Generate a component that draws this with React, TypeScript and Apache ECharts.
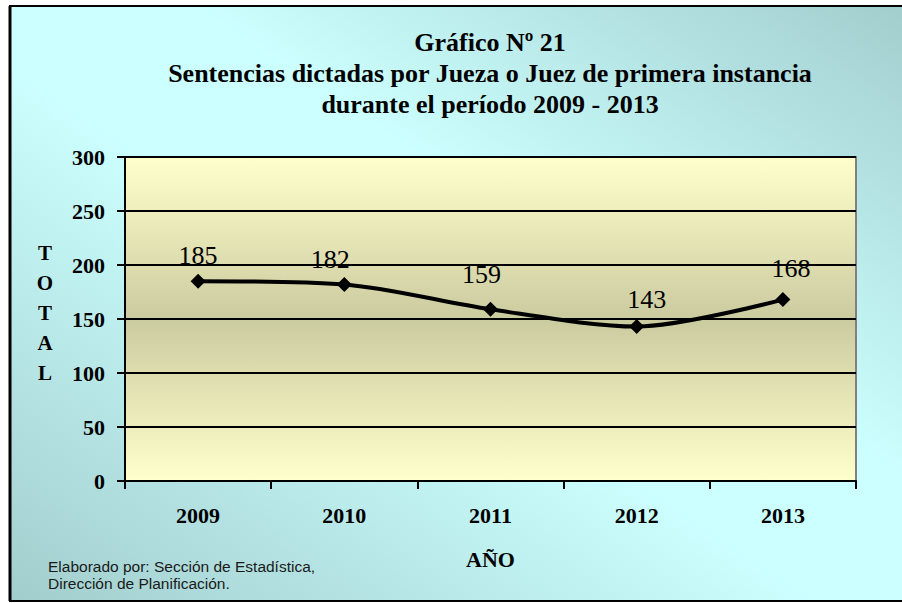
import React, { useEffect, useRef } from "react";
import * as echarts from "echarts";

const years = ["2009", "2010", "2011", "2012", "2013"];
const sentencias = [185, 182, 159, 143, 168];
const titleLines = [
  "Gráfico Nº 21",
  "Sentencias dictadas por Jueza o Juez de primera instancia",
  "durante el período 2009 - 2013",
];
const yAxisLetters = ["T", "O", "T", "A", "L"];
const footerLines = ["Elaborado por: Sección de Estadística,", "Dirección de Planificación."];

// label nudges (styling only), as placed in the original
const labelNudges: [number, number][] = [
  [0, 0],
  [-14, 1],
  [-9, -9],
  [10, -2],
  [8, -6],
];

const SERIF = "'Liberation Serif', 'Times New Roman', serif";
const SANS = "'Liberation Sans', Arial, sans-serif";

export default function App() {
  const ref = useRef<HTMLDivElement>(null);
  useEffect(() => {
    if (!ref.current) return;
    const chart = echarts.init(ref.current, undefined, { renderer: "svg" });
    const bgGrad = new echarts.graphic.LinearGradient(0, 1, 1, 0, [
      { offset: 0, color: "#A2CDCD" },
      { offset: 0.45, color: "#CCFFFF" },
      { offset: 0.6, color: "#CCFFFF" },
      { offset: 1, color: "#A2CDCD" },
    ]);
    const plotGrad = new echarts.graphic.LinearGradient(0, 0, 0, 1, [
      { offset: 0, color: "#FFFFCC" },
      { offset: 0.5, color: "#CBCBA0" },
      { offset: 1, color: "#FFFFCC" },
    ]);
    const titleY = [42, 73, 104];
    chart.setOption({
      animation: false,
      graphic: [
        {
          type: "rect",
          z: -10,
          shape: { x: 10, y: 6, width: 900, height: 595 },
          style: { fill: bgGrad, stroke: "#000", lineWidth: 2 },
        },
        {
          type: "line",
          z: -9,
          shape: { x1: 10, y1: 6, x2: 10, y2: 601 },
          style: { stroke: "#000", lineWidth: 3 },
        },
        ...titleLines.map((t, i) => ({
          type: "text",
          x: 490,
          y: titleY[i],
          style: {
            text: t,
            align: "center",
            verticalAlign: "middle",
            font: `bold 26px ${SERIF}`,
            fill: "#000",
          },
        })),
        {
          type: "text",
          x: 45,
          y: 313,
          style: {
            text: yAxisLetters.join("\n"),
            align: "center",
            verticalAlign: "middle",
            font: `bold 21px ${SERIF}`,
            lineHeight: 30,
            fill: "#000",
          },
        },
        {
          type: "text",
          x: 48,
          y: 575,
          style: {
            text: footerLines.join("\n"),
            align: "left",
            verticalAlign: "middle",
            font: `15.5px ${SANS}`,
            lineHeight: 17,
            fill: "#1a1a1a",
          },
        },
      ],
      grid: {
        left: 125,
        top: 157,
        width: 731,
        height: 324,
        show: true,
        backgroundColor: plotGrad,
        borderColor: "#808080",
        borderWidth: 2,
      },
      xAxis: {
        type: "category",
        data: years,
        boundaryGap: true,
        axisLine: { lineStyle: { color: "#000", width: 2 } },
        axisTick: { show: true, length: 8, lineStyle: { color: "#000", width: 2 } },
        axisLabel: {
          margin: 23,
          color: "#000",
          fontFamily: SERIF,
          fontWeight: "bold",
          fontSize: 22,
        },
        name: "AÑO",
        nameLocation: "middle",
        nameGap: 67,
        nameTextStyle: { color: "#000", fontFamily: SERIF, fontWeight: "bold", fontSize: 22 },
      },
      yAxis: {
        type: "value",
        min: 0,
        max: 300,
        interval: 50,
        axisLine: { show: true, lineStyle: { color: "#000", width: 2 } },
        axisTick: { show: true, length: 8, lineStyle: { color: "#000", width: 2 } },
        splitLine: { show: true, lineStyle: { color: "#000", width: 2 } },
        axisLabel: {
          margin: 20,
          color: "#000",
          fontFamily: SERIF,
          fontWeight: "bold",
          fontSize: 22,
        },
      },
      series: [
        {
          type: "line",
          data: sentencias.map((v, i) => ({
            value: v,
            label: { offset: labelNudges[i] },
          })),
          smooth: 0.3,
          symbol: "diamond",
          symbolSize: 15,
          lineStyle: { color: "#000", width: 4 },
          itemStyle: { color: "#000" },
          label: {
            show: true,
            position: "top",
            distance: 5,
            color: "#000",
            fontFamily: SERIF,
            fontSize: 26,
          },
        },
      ],
    });
    return () => chart.dispose();
  }, []);
  return (
    <div
      ref={ref}
      style={{ position: "fixed", left: 0, top: 0, width: 902, height: 603, background: "#fff" }}
    />
  );
}
